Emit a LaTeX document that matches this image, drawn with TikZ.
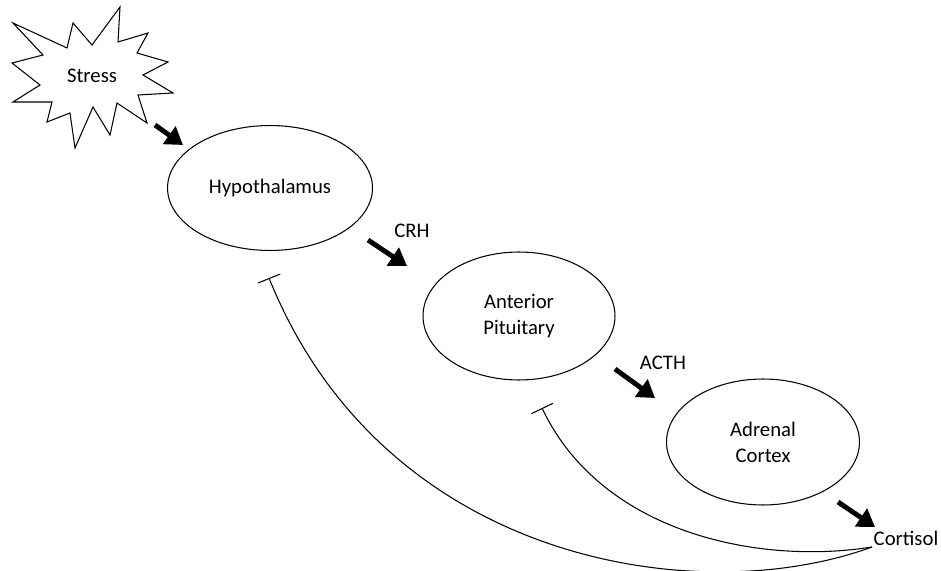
\documentclass[tikz,border=0pt]{standalone}
\usepackage{fontspec}
\setmainfont{Carlito}
\usetikzlibrary{arrows.meta,shapes.geometric}

\begin{document}
\begin{tikzpicture}[
    x=0.02cm, y=-0.02cm,
    txt/.style={font={\fontsize{11.8}{14.7}\selectfont}},
    gland/.style={draw,ellipse,line width=.6pt,inner sep=0pt,
        align=center,txt},
    signal/.style={-{Triangle[length=.34cm,width=.42cm]},line width=2.8pt},
    inhibit/.style={-{Bar[width=.48cm,line width=.6pt]},line width=.6pt},
    ]
    \useasboundingbox (0,0) rectangle (941,571);

    % Stress burst
    \draw[line width=.6pt] (13,23) -- (67,48) -- (73,23) -- (92,45)
        -- (120,7) -- (118,42) -- (148,33) -- (137,53) -- (168,62)
        -- (143,75) -- (173,93) -- (138,95) -- (147,123) -- (117,103)
        -- (110,135) -- (93,107) -- (75,148) -- (70,113) -- (47,122)
        -- (52,102) -- (13,102) -- (40,85) -- (12,63) -- (43,55) -- cycle;
    \node[txt] (stress) at (92,76) {Stress};

    % Glands
    \node[gland,minimum width=4.1cm,minimum height=2.5cm]
        (hypo) at (270,188) {Hypothalamus};
    \node[gland,minimum width=3.84cm,minimum height=2.56cm]
        (pit) at (519,316) {Anterior\\Pituitary};
    \node[gland,minimum width=3.86cm,minimum height=2.52cm]
        (adr) at (763,442) {Adrenal\\Cortex};
    \node[txt] (cortisol) at (906,538) {Cortisol};

    % Hormone labels
    \node[txt] (crh) at (412,231) {CRH};
    \node[txt] (acth) at (663,363) {ACTH};

    % Signal arrows
    \coordinate (s0) at (155,125);  \coordinate (s1) at (183,145);
    \coordinate (c0) at (368,240);  \coordinate (c1) at (407,266);
    \coordinate (a0) at (615,369);  \coordinate (a1) at (655,398);
    \coordinate (k0) at (838,502);  \coordinate (k1) at (875,527);
    \draw[signal] (s0) -- (s1);
    \draw[signal] (c0) -- (c1);
    \draw[signal] (a0) -- (a1);
    \draw[signal] (k0) -- (k1);

    % Negative feedback
    \coordinate (fb) at (872,547);
    \coordinate (hb) at (269,278);
    \coordinate (pb) at (542,408);
    \draw[inhibit] (fb) .. controls (700,610) and (385,565) .. (hb);
    \draw[inhibit] (fb) .. controls (760,565) and (602,534) .. (pb);
\end{tikzpicture}
\end{document}
